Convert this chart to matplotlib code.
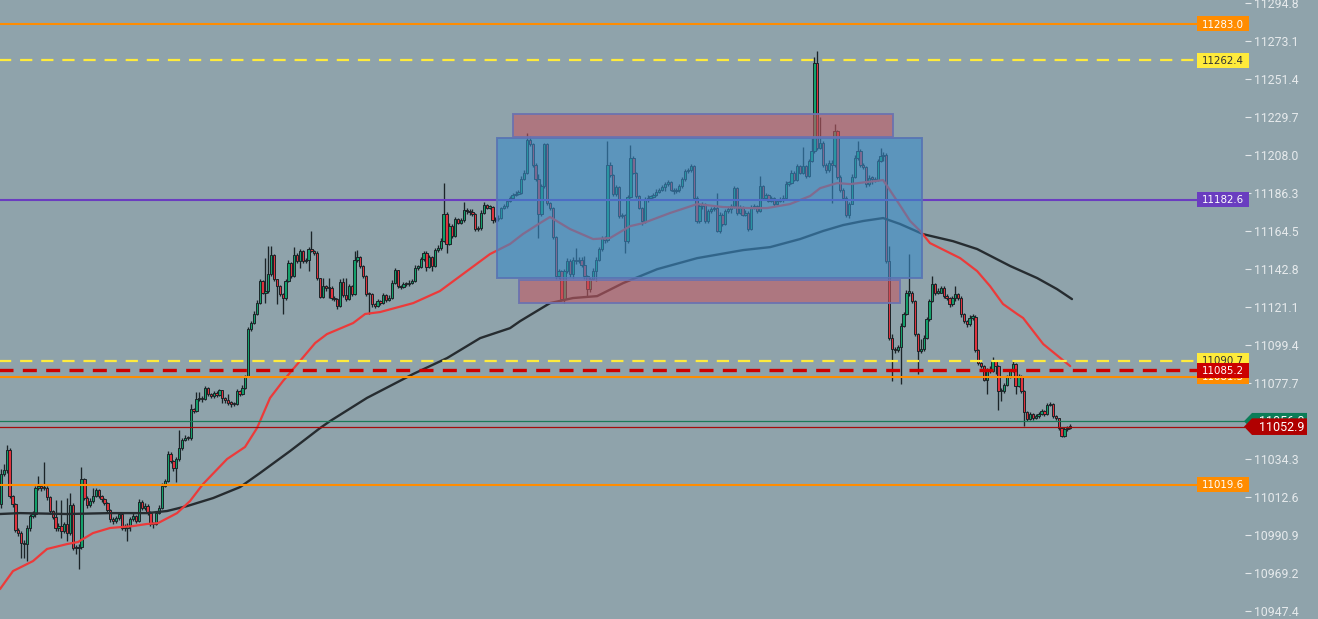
import numpy as np
import matplotlib
matplotlib.use("Agg")
import matplotlib.pyplot as plt
from matplotlib.patches import Rectangle, Polygon
from matplotlib.transforms import blended_transform_factory

# ---------------------------------------------------------------------------
# Data (one candle per entry, open = previous close)
# ---------------------------------------------------------------------------
first_open = 11008.5

close = [
    11025.6, 11027.9, 11039.4, 11013.3, 11008.5, 10993.6, 10992.3, 10986.6, 10985.6, 10995.2,
    11001.8, 11002.8, 11017.6, 11019.0, 11017.6, 11018.0, 11012.7, 11004.7, 11001.2, 10994.8,
    10996.1, 10993.3, 10997.1, 10992.3, 11008.1, 10983.7, 10983.3, 10984.1, 11022.8, 11012.3,
    11008.1, 11010.4, 11013.3, 11016.5, 11013.3, 11011.3, 11009.4, 11005.1, 10999.9, 10999.0,
    11000.5, 11002.8, 10995.2, 10995.2, 10996.1, 10999.9, 11001.8, 10999.0, 11010.0, 11006.2,
    11007.5, 11003.7, 10997.4, 10997.1, 11003.7, 11006.6, 11019.0, 11021.8, 11037.4, 11033.3,
    11029.4, 11034.2, 11040.9, 11045.1, 11046.6, 11046.2, 11062.8, 11061.8, 11068.5, 11069.5,
    11068.5, 11075.2, 11071.4, 11070.2, 11072.3, 11071.0, 11073.6, 11069.5, 11067.9, 11066.6,
    11066.0, 11065.6, 11073.3, 11071.7, 11075.2, 11081.5, 11108.5, 11112.3, 11117.5, 11123.7,
    11136.1, 11129.5, 11130.4, 11139.9, 11151.0, 11137.1, 11133.3, 11128.9, 11126.6, 11136.1,
    11146.6, 11139.0, 11151.0, 11147.6, 11153.3, 11147.6, 11148.0, 11154.2, 11153.3, 11152.3,
    11137.7, 11127.0, 11133.3, 11131.9, 11132.3, 11126.6, 11125.7, 11121.8, 11135.8, 11128.1,
    11125.7, 11133.3, 11128.9, 11147.9, 11149.9, 11144.7, 11139.0, 11128.9, 11128.5, 11122.8,
    11121.8, 11124.7, 11123.8, 11128.1, 11125.1, 11126.6, 11135.2, 11142.2, 11133.3, 11132.7,
    11134.6, 11134.2, 11135.2, 11136.1, 11143.8, 11144.1, 11148.5, 11152.3, 11144.1, 11149.9,
    11144.7, 11153.7, 11154.8, 11159.0, 11174.6, 11157.1, 11167.6, 11161.9, 11171.4, 11169.5,
    11170.8, 11176.5, 11176.1, 11175.5, 11174.6, 11165.7, 11166.2, 11175.2, 11179.6, 11178.0, 11178.4,
    11170.8, 11171.4, 11172.3, 11177.6, 11178.9, 11181.8, 11183.3, 11185.2, 11186.0, 11186.5,
    11194.7, 11198.0, 11216.5, 11214.2, 11202.7, 11194.2, 11174.2, 11190.4, 11214.2, 11180.8,
    11178.0, 11161.2, 11138.9, 11141.8, 11125.6, 11141.8, 11147.5, 11139.9, 11148.4, 11147.5,
    11148.4, 11145.0, 11138.9, 11131.3, 11137.0, 11142.0, 11148.4, 11154.2, 11160.8, 11159.3, 11202.7, 11196.6,
    11185.6, 11189.8, 11173.2, 11173.8, 11158.9, 11184.1, 11206.5, 11198.0, 11184.6, 11178.0,
    11170.4, 11182.7, 11183.7, 11184.1, 11185.2, 11187.1, 11188.4, 11189.9, 11191.3, 11192.6, 11188.4,
    11187.5, 11187.9, 11190.4, 11194.2, 11198.9, 11199.3, 11201.8, 11183.7, 11170.3, 11178.9,
    11179.9, 11170.3, 11176.0, 11177.0, 11177.9, 11164.6, 11174.1, 11168.8, 11176.0, 11177.5, 11178.9,
    11189.4, 11175.1, 11178.0, 11174.1, 11175.1, 11165.6, 11178.0, 11178.9, 11176.0, 11190.3,
    11183.7, 11185.2, 11182.1, 11183.3, 11180.2, 11181.8, 11182.8, 11183.7, 11191.7, 11192.2, 11198.0,
    11194.1, 11201.8, 11198.0, 11201.8, 11196.0, 11204.6, 11210.3, 11260.8, 11212.2, 11215.1,
    11202.7, 11199.3, 11203.7, 11202.3, 11221.8, 11195.5, 11188.4, 11183.7, 11173.8, 11179.9,
    11195.5, 11206.5, 11210.3, 11202.7, 11201.2, 11191.3, 11195.1, 11194.7,
    11193.6, 11204.6, 11207.5, 11208.1, 11147.5, 11103.7, 11097.0, 11096.5, 11098.4, 11110.4,
    11117.0, 11129.4, 11129.4, 11124.7, 11105.6, 11096.1, 11097.0, 11103.7, 11114.2,
    11124.7, 11134.2, 11129.4, 11129.4, 11132.3, 11127.5, 11126.6, 11122.8, 11126.6,
    11128.5, 11126.6, 11117.0, 11113.2, 11111.3, 11115.1, 11115.5, 11096.5, 11089.4,
    11087.5, 11079.3, 11085.0, 11084.7, 11090.4, 11087.5, 11073.2, 11073.2, 11076.7,
    11081.2, 11084.7, 11088.5, 11076.1, 11081.8, 11073.2, 11061.4, 11057.0, 11059.9, 11057.6,
    11058.9, 11059.9, 11061.8, 11059.9, 11065.2, 11065.9, 11058.9, 11057.6, 11052.2, 11047.5,
    11051.3, 11052.2, 11052.8,
]

high = [
    11028.5, 11031.4, 11042.4, 11040.5, 11014.0, 11009.5, 10995.0, 10993.5, 10988.0, 10996.5,
    11003.0, 11004.7, 11019.0, 11024.7, 11020.0, 11032.7, 11019.0, 11013.5, 11005.5, 11011.0,
    10998.0, 11011.0, 10998.5, 11012.3, 11015.2, 11009.0, 10985.0, 10986.0, 11029.8, 11023.5,
    11013.0, 11012.0, 11018.0, 11018.0, 11017.0, 11014.0, 11012.0, 11010.0, 11006.0, 11001.0,
    11002.0, 11004.0, 11003.5, 10997.0, 10998.0, 11001.0, 11003.5, 11002.5, 11011.5, 11011.0,
    11009.0, 11008.5, 11004.5, 10998.5, 11004.5, 11008.0, 11020.5, 11023.0, 11039.0, 11038.5,
    11034.0, 11035.5, 11050.8, 11046.5, 11048.0, 11047.5, 11066.0, 11063.5, 11072.9, 11072.9,
    11070.5, 11076.2, 11075.8, 11072.0, 11073.5, 11073.0, 11074.5, 11074.0, 11070.0, 11071.4,
    11067.5, 11067.0, 11074.5, 11074.0, 11076.5, 11082.5, 11110.0, 11113.5, 11119.0, 11125.0,
    11137.5, 11136.5, 11149.5, 11156.1, 11156.1, 11151.5, 11137.5, 11133.8, 11129.5, 11137.0,
    11148.0, 11147.0, 11155.6, 11152.0, 11154.5, 11154.0, 11149.5, 11155.5, 11164.7, 11154.0,
    11153.0, 11138.0, 11138.0, 11134.0, 11138.0, 11133.0, 11127.5, 11126.5, 11137.0, 11138.0,
    11137.6, 11134.5, 11134.0, 11153.3, 11153.7, 11150.5, 11145.5, 11139.5, 11130.0, 11129.0,
    11123.5, 11126.0, 11125.5, 11129.5, 11128.5, 11128.0, 11136.5, 11143.5, 11142.5, 11134.0,
    11135.5, 11135.5, 11136.5, 11137.5, 11145.0, 11145.5, 11150.0, 11153.5, 11153.0, 11151.0,
    11150.5, 11155.0, 11156.5, 11160.5, 11192.3, 11175.5, 11169.0, 11168.5, 11172.5, 11172.0,
    11172.0, 11181.5, 11178.0, 11177.0, 11177.0, 11175.0, 11167.5, 11176.5, 11181.0, 11180.0, 11179.5,
    11179.0, 11172.5, 11174.0, 11178.5, 11180.0, 11183.0, 11184.5, 11186.5, 11187.5, 11188.0,
    11196.0, 11199.5, 11220.8, 11218.9, 11215.0, 11203.5, 11197.0, 11191.5, 11215.1, 11215.0,
    11181.5, 11178.5, 11162.0, 11143.0, 11142.5, 11143.0, 11149.0, 11148.5, 11150.0, 11155.1,
    11150.0, 11150.0, 11150.5, 11139.5, 11138.5, 11143.5, 11150.0, 11155.5, 11162.0, 11162.0, 11216.0, 11204.0,
    11197.5, 11191.0, 11190.5, 11175.0, 11174.5, 11185.5, 11213.8, 11207.5, 11198.5, 11185.5,
    11178.5, 11184.0, 11185.0, 11185.5, 11186.5, 11188.5, 11189.5, 11191.0, 11192.5, 11194.0, 11193.0,
    11189.0, 11189.0, 11191.5, 11195.5, 11200.0, 11200.5, 11203.0, 11202.5, 11184.5, 11180.0,
    11181.0, 11180.5, 11177.5, 11178.5, 11179.0, 11186.5, 11175.5, 11175.0, 11177.5, 11179.0, 11180.0,
    11190.5, 11190.0, 11179.5, 11179.0, 11176.5, 11176.0, 11179.5, 11180.0, 11179.5, 11196.0,
    11191.0, 11186.5, 11186.0, 11184.5, 11184.0, 11183.0, 11184.0, 11185.0, 11193.0, 11193.5, 11199.5,
    11199.0, 11203.0, 11202.5, 11212.6, 11202.5, 11206.0, 11217.9, 11264.1, 11267.5, 11229.8,
    11216.0, 11203.5, 11205.0, 11205.0, 11225.6, 11222.5, 11196.5, 11189.5, 11184.5, 11181.0,
    11197.0, 11208.0, 11216.4, 11211.5, 11203.5, 11202.0, 11196.5, 11196.0,
    11195.5, 11206.0, 11212.2, 11210.0, 11209.0, 11156.1, 11106.0, 11098.5, 11099.5, 11112.0,
    11118.5, 11131.0, 11151.3, 11130.5, 11125.5, 11106.5, 11103.0, 11105.0, 11115.5,
    11126.0, 11139.0, 11135.0, 11132.0, 11133.5, 11133.0, 11128.5, 11127.0, 11127.5,
    11133.2, 11129.5, 11127.5, 11118.0, 11114.0, 11116.5, 11117.0, 11116.5, 11097.0,
    11090.0, 11088.0, 11086.5, 11087.5, 11092.7, 11091.0, 11088.0, 11075.0, 11078.0,
    11082.5, 11086.0, 11090.5, 11089.0, 11083.0, 11082.5, 11074.0, 11062.0, 11061.0, 11060.5,
    11060.0, 11061.0, 11063.0, 11062.5, 11066.5, 11067.0, 11066.5, 11059.5, 11058.0, 11052.5,
    11052.5, 11053.0, 11054.5,
]

low = [
    11006.6, 11024.7, 11026.6, 11012.3, 11007.0, 10992.9, 10990.5, 10978.0, 10978.0, 10976.1,
    10993.0, 11000.5, 11001.0, 11016.5, 11016.0, 11016.5, 11011.0, 11003.0, 11000.0, 10993.5,
    10993.0, 10989.4, 10992.0, 10987.5, 10991.0, 10982.5, 10979.9, 10971.3, 10983.0, 11011.0,
    11006.6, 11007.0, 11009.5, 11012.5, 11012.0, 11010.0, 11008.0, 11004.0, 10998.5, 10997.5,
    10998.0, 10999.5, 10994.0, 10993.5, 10987.5, 10993.0, 10999.0, 10998.0, 10998.5, 11005.0,
    11005.5, 11002.5, 10996.0, 10995.0, 10996.5, 11003.0, 11006.0, 11018.5, 11021.0, 11032.0,
    11027.5, 11021.5, 11033.5, 11039.5, 11044.5, 11045.0, 11045.5, 11060.5, 11061.0, 11067.5,
    11067.0, 11068.0, 11070.5, 11069.0, 11069.5, 11070.0, 11070.5, 11066.6, 11066.5, 11065.5,
    11064.1, 11064.5, 11065.0, 11070.5, 11071.0, 11074.5, 11081.0, 11107.5, 11111.5, 11116.5,
    11123.0, 11128.5, 11123.7, 11129.5, 11139.0, 11136.0, 11122.8, 11127.5, 11117.1, 11125.5,
    11135.5, 11138.0, 11138.5, 11146.5, 11143.8, 11146.5, 11146.5, 11141.9, 11152.5, 11151.0,
    11136.5, 11126.2, 11126.5, 11130.5, 11126.6, 11125.5, 11124.5, 11119.9, 11121.0, 11127.0,
    11124.5, 11125.0, 11127.5, 11128.0, 11147.0, 11143.5, 11138.0, 11127.5, 11117.5, 11121.5,
    11120.5, 11121.0, 11122.5, 11123.0, 11124.0, 11124.5, 11126.0, 11134.5, 11132.0, 11131.5,
    11132.0, 11133.0, 11133.5, 11134.5, 11135.5, 11142.5, 11143.5, 11147.5, 11141.9, 11143.5,
    11141.9, 11144.0, 11152.5, 11154.0, 11158.5, 11152.3, 11156.5, 11160.5, 11161.0, 11168.5,
    11168.5, 11170.0, 11174.5, 11174.0, 11173.5, 11164.5, 11164.5, 11165.5, 11174.5, 11177.0, 11177.0,
    11169.5, 11170.0, 11170.5, 11171.5, 11177.0, 11178.0, 11181.0, 11183.0, 11184.5, 11185.0,
    11186.0, 11194.0, 11197.5, 11213.0, 11201.5, 11193.0, 11160.8, 11173.0, 11189.5, 11179.5,
    11176.5, 11160.0, 11137.5, 11137.0, 11124.6, 11123.7, 11140.5, 11138.5, 11138.0, 11146.0,
    11146.5, 11144.0, 11137.5, 11127.5, 11130.0, 11136.5, 11136.0, 11147.5, 11153.5, 11158.0, 11158.5, 11195.5,
    11184.5, 11184.5, 11172.0, 11172.0, 11152.3, 11158.0, 11183.5, 11197.0, 11183.5, 11177.0,
    11168.1, 11169.5, 11181.5, 11183.0, 11183.5, 11184.5, 11186.5, 11187.5, 11187.5, 11190.5, 11187.5,
    11186.0, 11186.5, 11187.0, 11189.5, 11193.5, 11198.0, 11198.5, 11182.5, 11169.0, 11169.5,
    11177.5, 11169.0, 11169.5, 11175.0, 11176.0, 11164.0, 11163.5, 11167.5, 11168.0, 11175.0, 11175.0,
    11178.0, 11174.0, 11174.5, 11173.0, 11173.5, 11164.5, 11165.0, 11177.0, 11175.0, 11175.5,
    11182.5, 11183.0, 11181.0, 11181.5, 11179.0, 11179.5, 11181.0, 11181.0, 11183.0, 11190.5, 11191.5,
    11193.0, 11193.5, 11197.0, 11197.5, 11195.0, 11195.5, 11204.0, 11209.5, 11211.0, 11211.5,
    11201.5, 11198.0, 11198.5, 11180.8, 11201.5, 11194.5, 11187.0, 11182.5, 11172.5, 11172.2,
    11180.0, 11195.0, 11205.5, 11201.5, 11200.0, 11190.0, 11190.5, 11191.5,
    11192.5, 11193.0, 11204.0, 11204.5, 11146.5, 11102.5, 11078.9, 11095.0, 11095.5, 11077.0,
    11110.0, 11116.5, 11127.5, 11123.5, 11104.5, 11082.8, 11095.0, 11096.0, 11103.0,
    11113.5, 11124.0, 11128.0, 11128.5, 11129.0, 11126.5, 11125.0, 11121.5, 11122.0,
    11124.5, 11125.5, 11115.5, 11112.0, 11110.0, 11110.5, 11114.0, 11095.5, 11088.0,
    11086.5, 11078.8, 11071.3, 11083.5, 11084.0, 11082.8, 11062.2, 11067.6, 11072.0,
    11076.0, 11080.5, 11084.0, 11071.7, 11075.5, 11072.0, 11053.2, 11056.0, 11056.5, 11056.5,
    11057.0, 11058.0, 11059.5, 11059.0, 11059.5, 11064.5, 11058.0, 11056.5, 11051.0, 11046.8,
    11047.0, 11050.5, 11051.5,
]

# moving averages, sampled along the chart (bar index, price)
ma_fast_idx = [-0.35, 4.18, 11.13, 16.0, 22.96, 26.79, 32.0, 37.93, 45.93, 50.8,
               54.63, 61.24, 65.76, 70.28, 78.64, 84.9, 89.07, 93.6, 98.12, 104.0,
               109.3, 113.4, 122.5, 126.7, 131.9, 143.4, 152.7, 160.7, 170.1, 177.1,
               181.6, 187.5, 191.0, 198.0, 206.0, 211.9, 218.9, 223.4, 232.8, 242.2,
               251.2, 260.6, 266.5, 274.5, 281.5, 285.0, 290.9, 295.4, 301.3, 306.9,
               311.8, 316.3, 319.8, 323.2, 333.7, 339.6, 344.1, 348.6, 353.5, 355.6,
               362.6, 372.0]
ma_fast = [10960.1, 10970.4, 10976.1, 10983.0, 10985.8, 10987.0, 10992.1, 10995.0, 10996.1, 10997.3,
           10997.8, 11003.5, 11010.4, 11020.1, 11034.4, 11041.3, 11052.1, 11069.3, 11079.0, 11090.4,
           11100.7, 11105.8, 11112.1, 11117.3, 11118.4, 11123.5, 11130.4, 11140.1, 11151.5, 11157.3,
           11163.0, 11169.2, 11172.7, 11165.8, 11160.1, 11160.7, 11167.5, 11169.2, 11175.0, 11180.1,
           11178.4, 11177.8, 11177.8, 11180.1, 11184.7, 11189.2, 11192.1, 11191.5, 11192.7, 11193.8,
           11181.8, 11170.4, 11164.7, 11157.8, 11149.2, 11141.8, 11133.2, 11123.0, 11117.3, 11115.0,
           11100.1, 11087.5]

ma_slow_idx = [-0.35, 6.61, 22.96, 37.93, 50.8, 57.76, 64.7, 73.8, 83.2, 90.1,
               100.6, 111.0, 114.5, 127.3, 143.4, 155.2, 166.7, 177.1, 180.6, 191.0,
               199.0, 207.4, 216.4, 228.3, 242.2, 258.2, 267.6, 278.0, 286.0, 293.0,
               299.9, 306.9, 312.8, 320.8, 331.2, 339.6, 351.1, 360.5, 367.4, 372.6]
ma_slow = [11003.0, 11003.5, 11003.0, 11003.5, 11003.5, 11004.7, 11007.5, 11012.1, 11018.4, 11026.4,
           11039.0, 11052.1, 11056.1, 11069.3, 11083.0, 11092.1, 11103.5, 11109.2, 11113.2, 11123.5,
           11126.4, 11127.5, 11134.9, 11142.9, 11149.2, 11153.8, 11155.5, 11160.1, 11164.7, 11168.1,
           11170.4, 11172.1, 11168.7, 11162.9, 11158.9, 11154.4, 11144.7, 11137.8, 11131.5, 11125.8]

# price levels
lvl_top = 11283.0
lvl_yellow_hi = 11262.4
lvl_purple = 11182.6
lvl_yellow_lo = 11090.7
lvl_red = 11085.2
lvl_orange_mid = 11081.3
lvl_bottom = 11019.6
ask_price = 11056.0
last_price = 11052.9

# zones: (first bar, last bar, low price, high price)
zone_range = (172.6, 320.4, 11137.7, 11218.0)
zone_supply = (178.3, 310.5, 11218.4, 11231.4)
zone_demand = (180.3, 312.6, 11123.7, 11136.5)

tick_values = [10947.4, 10969.2, 10990.9, 11012.6, 11034.3, 11056.0, 11077.7, 11099.4, 11121.1,
               11142.8, 11164.5, 11186.3, 11208.0, 11229.7, 11251.4, 11273.1, 11294.8]

# ---------------------------------------------------------------------------
BG = "#8fa3ab"
W, H = 1318, 619
plt.rcParams["font.family"] = ["Roboto", "DejaVu Sans"]

fig = plt.figure(figsize=(W / 100, H / 100), dpi=100, facecolor=BG)
ax = fig.add_axes([0, 0, 1245 / W, 1])
ax.set_facecolor(BG)
ax.set_xlim(-0.35, 432.8)
ax.set_ylim(10943.0, 11296.7)

c = np.array(close)
h = np.array(high)
l = np.array(low)
o = np.r_[first_open, c[:-1]]
x = np.arange(len(c))
up = c >= o
bot = np.minimum(o, c)
body = np.maximum(np.abs(c - o), 0.8)

outline = "#1b2428"
ax.vlines(x, l, h, color=outline, lw=0.95, zorder=3)
ax.bar(x[up], body[up], bottom=bot[up], width=0.8, color="#14a06b",
       edgecolor=outline, linewidth=0.7, zorder=4)
ax.bar(x[~up], body[~up], bottom=bot[~up], width=0.8, color="#e0333e",
       edgecolor=outline, linewidth=0.7, zorder=4)

ax.plot(ma_slow_idx, ma_slow, color="#262c30", lw=1.7, zorder=5, solid_capstyle="round")
ax.plot(ma_fast_idx, ma_fast, color="#ec3a3a", lw=1.6, zorder=5, solid_capstyle="round")

# horizontal levels, ending where the price tags start
xend = (1197 - 1) / 2.874
ax.hlines(lvl_top, -1, xend, color="#ff8c00", lw=1.5, zorder=5.5)
ax.hlines(lvl_bottom, -1, xend, color="#ff8c00", lw=1.5, zorder=5.5)
ax.hlines(lvl_orange_mid, -1, xend, color="#ff8c00", lw=1.5, zorder=5.5)
ax.hlines(lvl_purple, -1, xend, color="#6a3dc0", lw=1.5, zorder=5.5)
ax.hlines([lvl_yellow_hi, lvl_yellow_lo], -1, xend, color="#ffeb3b", lw=1.6,
          linestyles=(0, (5.5, 4)), zorder=5.5)
ax.hlines(lvl_red, -1, xend, color="#cc0000", lw=2.4, linestyles=(0, (4.2, 2.8)), zorder=5.6)
ax.axhline(ask_price, color="#1b7a58", lw=0.9, zorder=5.5)
ax.axhline(last_price, color="#a50d0d", lw=0.9, zorder=5.5)

# zones on top of the candles
for zone, fc, ec in [(zone_range, "#3a8cc8", "#5874b4"),
                     (zone_supply, "#c25a64", "#6a72b0"),
                     (zone_demand, "#c25a64", "#6a72b0")]:
    x0, x1, y0, y1 = zone
    ax.add_patch(Rectangle((x0, y0), x1 - x0, y1 - y0, facecolor=fc, alpha=0.6,
                           edgecolor="none", zorder=6))
    ax.add_patch(Rectangle((x0, y0), x1 - x0, y1 - y0, facecolor="none",
                           edgecolor=ec, lw=1.4, alpha=0.9, zorder=6.1))

# price axis on the right
ax.yaxis.tick_right()
ax.set_yticks(tick_values)
ax.set_yticklabels([f"{v:.1f}" for v in tick_values])
ax.tick_params(axis="y", direction="out", length=4.3, width=0.8, color="#e2e7e9",
               pad=2.2, labelsize=8.8, labelcolor="#e6eaec")
ax.tick_params(axis="x", bottom=False, labelbottom=False)
for s in ax.spines.values():
    s.set_visible(False)

trans = blended_transform_factory(ax.transAxes, ax.transData)
unit = 0.5714  # price per pixel


def level_tag(price, text, fc, tc, z):
    hgt = 15 * unit
    ax.add_patch(Rectangle((1197 / 1245, price - hgt / 2), 52 / 1245, hgt, transform=trans,
                           facecolor=fc, edgecolor="none", clip_on=False, zorder=z))
    ax.text(1223 / 1245, price - 0.3, text, transform=trans, ha="center", va="center",
            fontsize=7.4, family="DejaVu Sans", color=tc, clip_on=False, zorder=z + 0.1)


level_tag(lvl_top, f"{lvl_top:.1f}", "#ff8c00", "white", 20)
level_tag(lvl_yellow_hi, f"{lvl_yellow_hi:.1f}", "#ffeb3b", "#333333", 20)
level_tag(lvl_purple, f"{lvl_purple:.1f}", "#6a3dc0", "white", 20)
level_tag(lvl_bottom, f"{lvl_bottom:.1f}", "#ff8c00", "white", 20)
level_tag(lvl_orange_mid, f"{lvl_orange_mid:.1f}", "#ff8c00", "white", 20)
level_tag(lvl_yellow_lo, f"{lvl_yellow_lo:.1f}", "#ffeb3b", "#333333", 21)
level_tag(lvl_red, f"{lvl_red:.1f}", "#cc0000", "white", 22)


def price_flag(price, text, fc, z):
    hh = 8.3 * unit
    pts = [(1244 / 1245, price), (1252 / 1245, price + hh), (1307 / 1245, price + hh),
           (1307 / 1245, price - hh), (1252 / 1245, price - hh)]
    ax.add_patch(Polygon(pts, closed=True, transform=trans, facecolor=fc,
                         edgecolor="none", clip_on=False, zorder=z))
    ax.text(1282 / 1245, price - 0.3, text, transform=trans, ha="center", va="center",
            fontsize=9, color="white", clip_on=False, zorder=z + 0.1)


price_flag(ask_price, f"{ask_price:.1f}", "#0b7d58", 23)
price_flag(last_price, f"{last_price:.1f}", "#b00000", 24)

fig.savefig("out.png", dpi=100, facecolor=BG)
